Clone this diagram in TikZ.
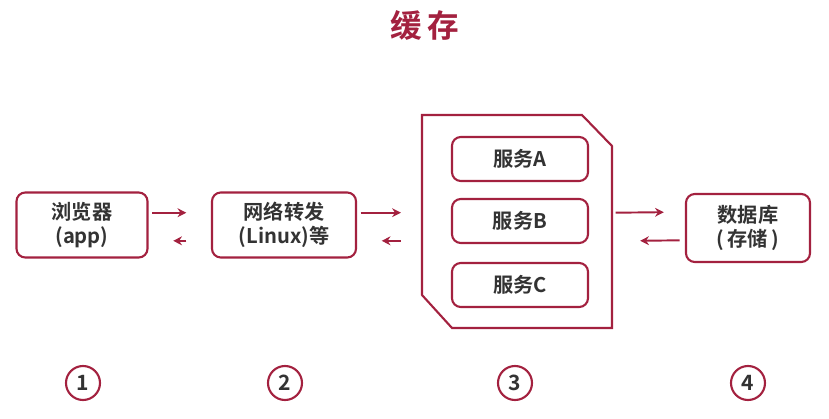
\documentclass[tikz,border=0pt]{standalone}
\usepackage{fontspec}
\setmainfont{Noto Sans CJK SC}[BoldFont={* Bold}]
\usetikzlibrary{arrows.meta}
\definecolor{wine}{HTML}{A3213F}
\definecolor{ink}{HTML}{333333}
\begin{document}
\begin{tikzpicture}
[x=0.02cm,y=-0.02cm,
 box/.style={draw=wine,line width=1.2pt,rounded corners=5pt,fill=white,text=ink,font=\bfseries\fontsize{11.5}{14}\selectfont,align=center,inner sep=0pt},
 link/.style={draw=wine,line width=1.1pt,-{Stealth[length=5pt,width=5pt]}},
 num/.style={circle,draw=wine,line width=1.2pt,minimum size=34*0.02cm,inner sep=0pt,text=ink,font=\bfseries\fontsize{12}{14}\selectfont}]
\useasboundingbox (0,0) rectangle (829,419);
\node[text=wine,font=\bfseries\fontsize{18}{20}\selectfont] (title) at (425,25) {缓\,存};
% clients
\node[box,minimum width=131*0.02cm,minimum height=65*0.02cm] (br) at (82,225) {浏览器\\(app)};
\node[box,minimum width=144*0.02cm,minimum height=65*0.02cm] (net) at (284,225) {网络转发\\(Linux)等};
\node[box,minimum width=124*0.02cm,minimum height=68*0.02cm] (db) at (748,228) {数据库\\(\,存储\,)};
% services
\draw[wine,line width=1.2pt] (422,115) -- (582,115) -- (612,146) -- (612,328) -- (452,328) -- (422,295) -- cycle;
\coordinate (grpW) at (422,225);
\coordinate (grpE) at (612,225);
\foreach \n/\y in {A/159,B/221,C/285}
  \node[box,minimum width=136*0.02cm,minimum height=44*0.02cm] (s\n) at (520,\y) {服务\n};
% arrows
\draw[link] ([xshift=2pt,yshift=7pt]br.east) -- ([xshift=-14pt,yshift=7pt]net.west);
\draw[link] ([xshift=-14pt,yshift=-9pt]net.west) -- ([xshift=14pt,yshift=-9pt]br.east);
\draw[link] ([xshift=2pt,yshift=7pt]net.east) -- ([xshift=-12pt,yshift=7pt]grpW);
\draw[link] ([xshift=-12pt,yshift=-9pt]grpW) -- ([xshift=14pt,yshift=-9pt]net.east);
\draw[link] ([xshift=2pt,yshift=7pt]grpE) -- ([xshift=-12pt,yshift=9pt]db.west);
\draw[link] ([xshift=-3pt,yshift=-7pt]db.west) -- ([xshift=16pt,yshift=-9pt]grpE);
% steps
\foreach \x [count=\i] in {83,285,515,748}
  \node[num] (n\i) at (\x,383) {\i};
\end{tikzpicture}
\end{document}
